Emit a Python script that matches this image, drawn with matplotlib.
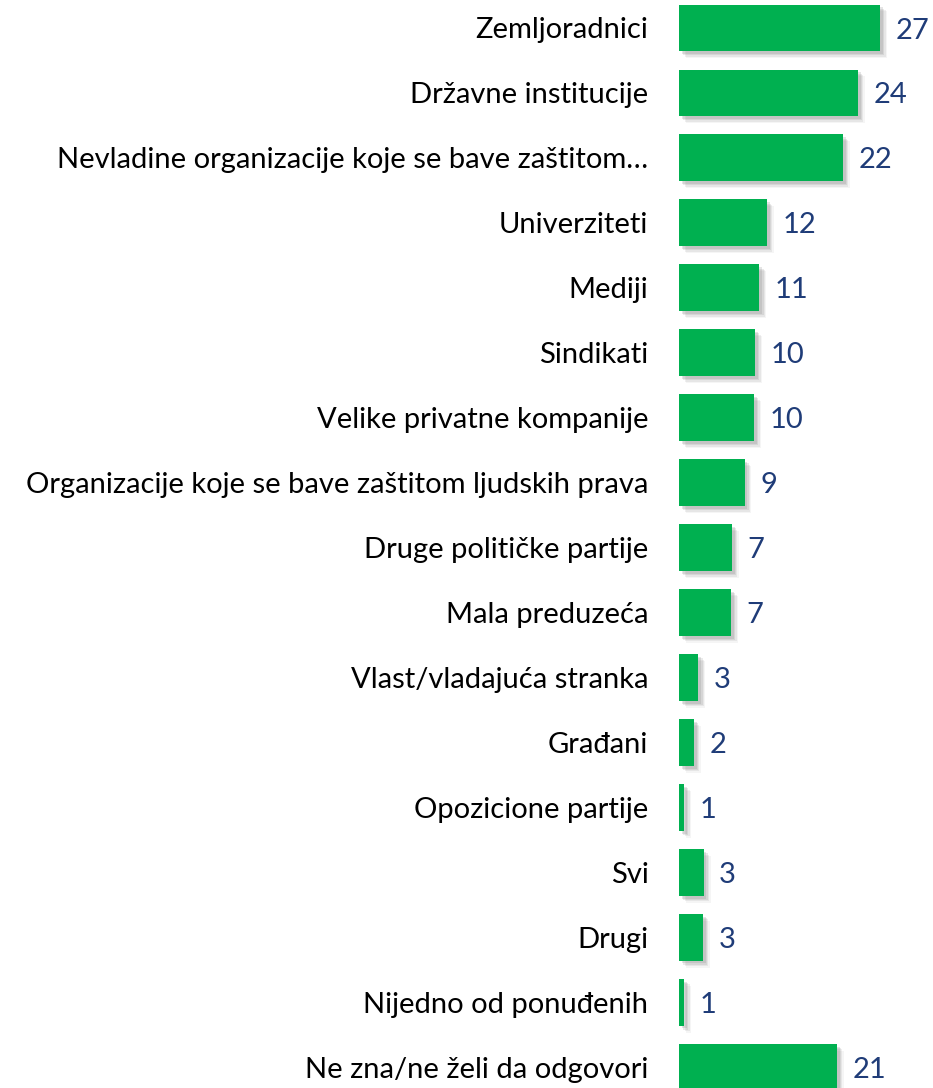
import matplotlib
matplotlib.use("Agg")
import matplotlib.pyplot as plt
import matplotlib.patheffects as pe

plt.rcParams['font.family'] = ['Lato', 'DejaVu Sans']

categories = [
    "Zemljoradnici",
    "Državne institucije",
    "Nevladine organizacije koje se bave zaštitom…",
    "Univerziteti",
    "Mediji",
    "Sindikati",
    "Velike privatne kompanije",
    "Organizacije koje se bave zaštitom ljudskih prava",
    "Druge političke partije",
    "Mala preduzeća",
    "Vlast/vladajuća stranka",
    "Građani",
    "Opozicione partije",
    "Svi",
    "Drugi",
    "Nijedno od ponuđenih",
    "Ne zna/ne želi da odgovori",
]
values = [27, 24, 22, 12, 11, 10, 10, 9, 7, 7, 3, 2, 1, 3, 3, 1, 21]
# drawn widths (the 1% bars are drawn thinner in the original)
widths = [27, 24, 22, 11.8, 10.8, 10.2, 10.1, 8.8, 7.1, 7.0, 2.6, 2.0, 0.7, 3.3, 3.2, 0.7, 21.2]

fig = plt.figure(figsize=(9.33, 10.88), dpi=100)
ax = fig.add_axes([679 / 933, 0, 1 - 679 / 933, 1])

pos = list(range(len(categories)))
bars = ax.barh(pos, widths, height=0.72, color='#00B050')
shadow = [pe.SimplePatchShadow(offset=(d, -d), shadow_rgbFace='#808080', alpha=a)
          for d, a in [(5, 0.08), (4, 0.12), (3, 0.16), (2, 0.2)]]
for b in bars:
    b.set_path_effects(shadow + [pe.Normal()])

for y, w, v in zip(pos, widths, values):
    ax.text(w + 2.1, y + 0.04, str(v), va='center', ha='left', fontsize=21, color='#1F3C78')

ax.set_yticks(pos)
ax.set_yticklabels(categories, fontsize=21, color='black')
ax.tick_params(axis='y', length=0, pad=22)
ax.set_xticks([])
ax.set_xlim(0, 34.1)
ax.set_ylim(16.32, -0.43)
for s in ax.spines.values():
    s.set_visible(False)

fig.savefig("out.png", dpi=100)
